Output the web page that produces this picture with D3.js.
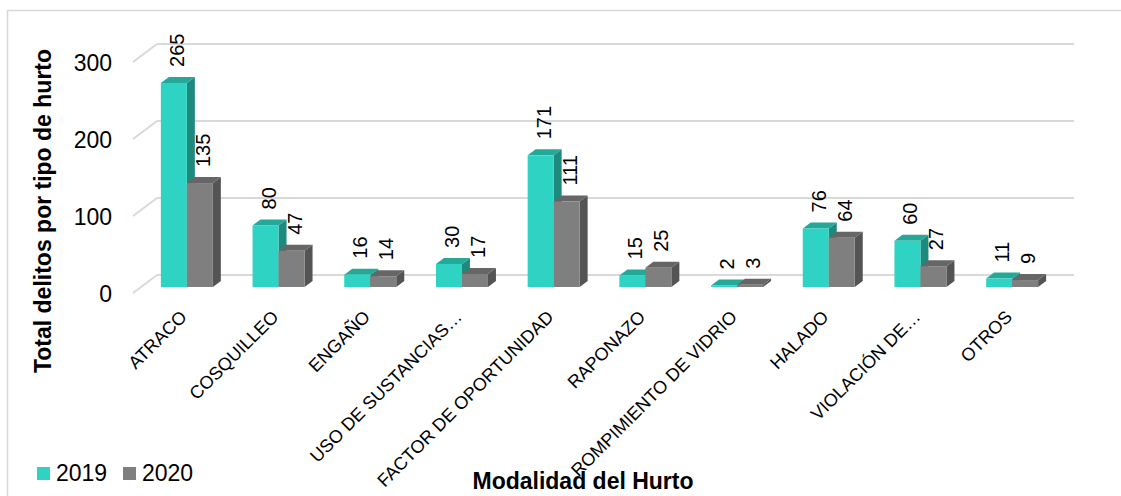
<!DOCTYPE html>
<html>
<head>
<meta charset="utf-8">
<script src="https://cdn.jsdelivr.net/npm/d3@7"></script>
<style>
  html, body { margin: 0; padding: 0; background: #ffffff; }
  svg { display: block; }
  text { font-family: "Liberation Sans", Arial, sans-serif; fill: #000; }
</style>
</head>
<body>
<svg id="chart" width="1121" height="496"></svg>
<script>
// ---- data ----
const categories = ["ATRACO", "COSQUILLEO", "ENGAÑO", "USO DE SUSTANCIAS…", "FACTOR DE OPORTUNIDAD",
  "RAPONAZO", "ROMPIMIENTO DE VIDRIO", "HALADO", "VIOLACIÓN DE…", "OTROS"];
const series = ["2019", "2020"];
const values2019 = [265, 80, 16, 30, 171, 15, 2, 76, 60, 11];
const values2020 = [135, 47, 14, 17, 111, 25, 3, 64, 27, 9];
const yTicks = [0, 100, 200, 300];
const yTitle = "Total delitos por tipo de hurto";
const xTitle = "Modalidad del Hurto";

// ---- styling / geometry ----
const colors = {
  "2019": { front: "#2ED3C3", top: "#26A899", side: "#1E8A7E" },
  "2020": { front: "#7F7F7F", top: "#666666", side: "#545454" }
};
const svg = d3.select("#chart");

// outer frame
svg.append("rect").attr("x", 7.5).attr("y", 10.5).attr("width", 1130).attr("height", 500)
  .attr("fill", "#fff").attr("stroke", "#d9d9d9").attr("stroke-width", 1.5);

const x = d3.scaleBand().domain(categories).range([133, 1050]);
const y = d3.scaleLinear().domain([0, 300]).range([293, 62]);
const depthX = 24, depthY = 18;     // floor depth offset
const barDX = 8, barDY = 6;         // bar depth
const barW = 26;

// gridlines (back wall + side wall diagonals)
const grid = svg.append("g");
yTicks.forEach(t => {
  grid.append("line")
    .attr("x1", x.range()[0] + depthX).attr("x2", x.range()[1] + depthX)
    .attr("y1", y(t) - depthY).attr("y2", y(t) - depthY)
    .attr("stroke", "#d9d9d9").attr("stroke-width", 2);
  grid.append("line")
    .attr("x1", x.range()[0]).attr("x2", x.range()[0] + depthX)
    .attr("y1", y(t)).attr("y2", y(t) - depthY)
    .attr("stroke", "#d9d9d9").attr("stroke-width", 2);
});

// y axis tick labels
const yAxis = d3.axisLeft(y).tickValues(yTicks).tickSize(0).tickPadding(0);
const gy = svg.append("g").attr("transform", "translate(112,0)").call(yAxis);
gy.select(".domain").remove();
gy.selectAll("text").attr("font-size", 23).attr("font-family", "Liberation Sans, Arial, sans-serif")
  .attr("fill", "#000").attr("dy", "0.36em").attr("x", 0);

// bars
const groupOffset = (x.bandwidth() - 2 * barW) / 2;
const barData = [];
categories.forEach((c, i) => {
  [values2019[i], values2020[i]].forEach((v, s) => {
    barData.push({ cat: c, series: series[s], value: v, s });
  });
});

const bars = svg.append("g");
barData.forEach(d => {
  const x0 = x(d.cat) + groupOffset + d.s * barW + barDX;
  const yB = y(0) - barDY;
  const yT = y(d.value) - barDY;
  const col = colors[d.series];
  const g = bars.append("g");
  // side
  g.append("polygon")
    .attr("points", [[x0 + barW, yT], [x0 + barW + barDX, yT - barDY], [x0 + barW + barDX, yB - barDY], [x0 + barW, yB]].map(p => p.join(",")).join(" "))
    .attr("fill", col.side);
  // top
  g.append("polygon")
    .attr("points", [[x0, yT], [x0 + barDX, yT - barDY], [x0 + barW + barDX, yT - barDY], [x0 + barW, yT]].map(p => p.join(",")).join(" "))
    .attr("fill", col.top);
  // front
  g.append("rect").attr("x", x0).attr("y", yT).attr("width", barW).attr("height", yB - yT)
    .attr("fill", col.front);
  d.cx = x0 + barW / 2; d.ty = yT;
});

// value labels
barData.forEach(d => {
  svg.append("text")
    .attr("transform", `translate(${d.cx + 10},${d.ty - 16}) rotate(-90)`)
    .attr("font-size", 20).attr("text-anchor", "start")
    .text(d.value);
});

// category labels
categories.forEach(c => {
  const cx = x(c) + x.bandwidth() / 2 + 9;
  svg.append("text")
    .attr("transform", `translate(${cx},318) rotate(-45)`)
    .attr("font-size", 18).attr("text-anchor", "end")
    .text(c);
});

// axis titles
svg.append("text")
  .attr("transform", "translate(51,211) rotate(-90)")
  .attr("text-anchor", "middle").attr("font-size", 23).attr("font-weight", "bold")
  .text(yTitle);
svg.append("text")
  .attr("x", 583).attr("y", 489)
  .attr("text-anchor", "middle").attr("font-size", 23).attr("font-weight", "bold")
  .text(xTitle);

// legend
const legend = svg.append("g");
[[series[0], 37, 56], [series[1], 123, 142]].forEach(([s, sx, tx]) => {
  legend.append("rect").attr("x", sx).attr("y", 467).attr("width", 13).attr("height", 13)
    .attr("fill", colors[s].front);
  legend.append("text").attr("x", tx).attr("y", 481).attr("font-size", 23).text(s);
});
</script>
</body>
</html>
